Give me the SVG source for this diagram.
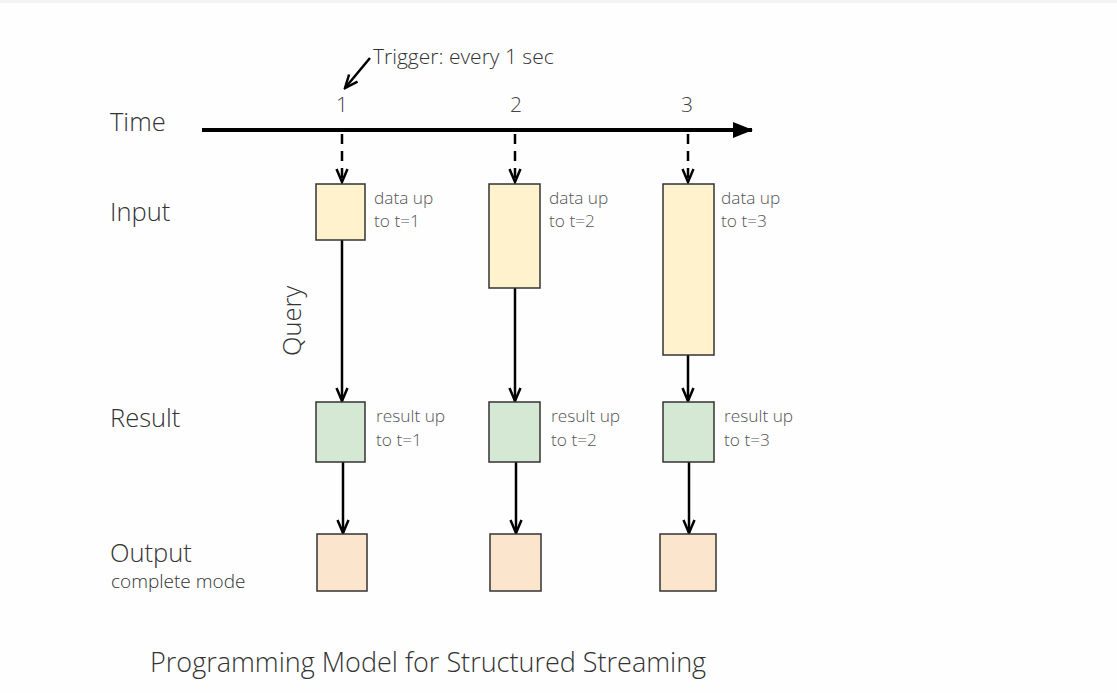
<svg xmlns="http://www.w3.org/2000/svg" width="1117" height="693" viewBox="0 0 1117 693">
<style>
text{font-family:"Open Sans","Liberation Sans",sans-serif;font-weight:300;fill:#333}
.lbl{font-size:25.5px}
.sm{font-size:17.3px;fill:#555}
.num{font-size:21px;fill:#444}
.in{fill:#fff2cc;stroke:#333;stroke-width:1.5}
.res{fill:#d5e8d4;stroke:#333;stroke-width:1.5}
.out{fill:#fbe5cd;stroke:#333;stroke-width:1.5}
.c{stroke:#000;stroke-width:2.5;fill:none;marker-end:url(#ah)}
.d{stroke-dasharray:10,7}
</style>
<defs>
<marker id="ah" viewBox="0 0 16 14" refX="14.5" refY="7" markerWidth="16" markerHeight="14" markerUnits="userSpaceOnUse" orient="auto">
<path d="M1.5,1.5 L14.5,7 L1.5,12.5" fill="none" stroke="#000" stroke-width="2.5"/>
</marker>
<marker id="big" viewBox="0 0 20 16" refX="19" refY="8" markerWidth="20" markerHeight="16" markerUnits="userSpaceOnUse" orient="auto">
<path d="M0,0 L20,8 L0,16 Z" fill="#000"/>
</marker>
</defs>
<rect width="1117" height="693" fill="#fefefe"/>
<rect width="1117" height="3" fill="#f3f3f3"/>
<g id="labels">
<text class="lbl" x="110" y="131">Time</text>
<text class="lbl" x="110" y="221">Input</text>
<text class="lbl" x="110" y="427">Result</text>
<text class="lbl" x="110" y="562">Output</text>
<text x="111" y="588" style="font-size:19px">complete mode</text>
<text x="301" y="321" class="lbl" text-anchor="middle" transform="rotate(-90 301 321)">Query</text>
<text x="373" y="64" style="font-size:21px">Trigger: every 1 sec</text>
<text class="num" x="342" y="112" text-anchor="middle">1</text>
<text class="num" x="516" y="112" text-anchor="middle">2</text>
<text class="num" x="687" y="112" text-anchor="middle">3</text>
<text x="150" y="672" style="font-size:27px">Programming Model for Structured Streaming</text>
</g>
<g id="connectors">
<line x1="202" y1="130" x2="752" y2="130" stroke="#000" stroke-width="4" marker-end="url(#big)"/>
<line class="c" x1="370" y1="58" x2="345" y2="88"/>
<line class="c d" x1="342" y1="134" x2="342" y2="182"/>
<line class="c d" x1="515" y1="134" x2="515" y2="182"/>
<line class="c d" x1="688" y1="134" x2="688" y2="182"/>
<line class="c" x1="342" y1="240" x2="342" y2="401"/>
<line class="c" x1="515" y1="288" x2="515" y2="401"/>
<line class="c" x1="688" y1="355" x2="688" y2="401"/>
<line class="c" x1="343" y1="462" x2="343" y2="533"/>
<line class="c" x1="516" y1="462" x2="516" y2="533"/>
<line class="c" x1="689" y1="462" x2="689" y2="533"/>
</g>
<g id="input1"><rect class="in" x="316" y="184" width="49" height="56"/><text class="sm" x="374" y="204">data up</text><text class="sm" x="374" y="227">to t=1</text></g>
<g id="input2"><rect class="in" x="489" y="184" width="51" height="104"/><text class="sm" x="549" y="204">data up</text><text class="sm" x="549" y="227">to t=2</text></g>
<g id="input3"><rect class="in" x="663" y="184" width="51" height="171"/><text class="sm" x="721" y="204">data up</text><text class="sm" x="721" y="227">to t=3</text></g>
<g id="result1"><rect class="res" x="316" y="402" width="49" height="60"/><text class="sm" x="376" y="422">result up</text><text class="sm" x="376" y="446">to t=1</text></g>
<g id="result2"><rect class="res" x="489" y="402" width="51" height="60"/><text class="sm" x="551" y="422">result up</text><text class="sm" x="551" y="446">to t=2</text></g>
<g id="result3"><rect class="res" x="663" y="402" width="51" height="60"/><text class="sm" x="724" y="422">result up</text><text class="sm" x="724" y="446">to t=3</text></g>
<g id="output1"><rect class="out" x="317" y="534" width="50" height="57"/></g>
<g id="output2"><rect class="out" x="490" y="534" width="51" height="57"/></g>
<g id="output3"><rect class="out" x="660" y="534" width="56" height="57"/></g>
</svg>
